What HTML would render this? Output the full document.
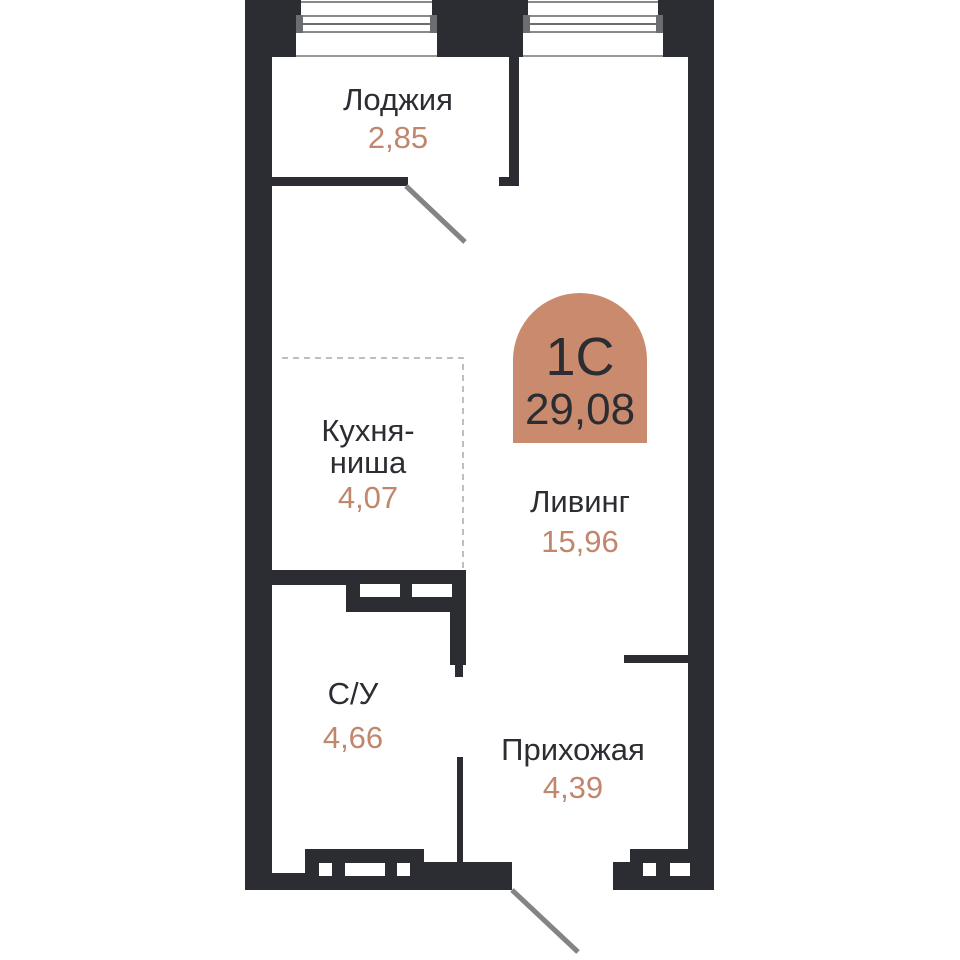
<!DOCTYPE html>
<html><head><meta charset="utf-8"><style>
html,body{margin:0;padding:0;background:#fff}
svg{display:block}
text{font-family:"Liberation Sans",sans-serif}
</style></head><body>
<svg width="960" height="960" viewBox="0 0 960 960" xmlns="http://www.w3.org/2000/svg">
<g fill="#2b2d32">
<rect x="245" y="0" width="469" height="57"/>
<rect x="245" y="0" width="27" height="890"/>
<rect x="688" y="0" width="26" height="890"/>
<rect x="272" y="177" width="136" height="9"/>
<rect x="509" y="57" width="10" height="129"/>
<rect x="499" y="177" width="20" height="9"/>
<rect x="272" y="570" width="194" height="15"/>
<rect x="346" y="585" width="120" height="27"/>
<rect x="450" y="585" width="16" height="80"/>
<rect x="455" y="660" width="8" height="17"/>
<rect x="457" y="757" width="6" height="106"/>
<rect x="624" y="655" width="64" height="8"/>
<rect x="245" y="873" width="267" height="17"/>
<rect x="305" y="849" width="119" height="41"/>
<rect x="424" y="862" width="88" height="28"/>
<rect x="613" y="862" width="101" height="28"/>
<rect x="630" y="849" width="84" height="41"/>
</g>
<g>
<rect x="301" y="0" width="131" height="15" fill="#fff"/>
<rect x="296" y="15" width="141" height="42" fill="#fff"/>
<rect x="301" y="1" width="131" height="2" fill="#888"/>
<rect x="296" y="15" width="7" height="18" fill="#6b6d70"/>
<rect x="430" y="15" width="7" height="18" fill="#6b6d70"/>
<rect x="303" y="15" width="127" height="2" fill="#8a8a8a"/>
<rect x="303" y="23" width="127" height="2" fill="#6b6d70"/>
<rect x="303" y="31" width="127" height="2" fill="#8a8a8a"/>
<rect x="296" y="55" width="141" height="2" fill="#999"/>
<rect x="528" y="0" width="130" height="15" fill="#fff"/>
<rect x="523" y="15" width="140" height="42" fill="#fff"/>
<rect x="528" y="1" width="130" height="2" fill="#888"/>
<rect x="523" y="15" width="7" height="18" fill="#6b6d70"/>
<rect x="656" y="15" width="7" height="18" fill="#6b6d70"/>
<rect x="530" y="15" width="126" height="2" fill="#8a8a8a"/>
<rect x="530" y="23" width="126" height="2" fill="#6b6d70"/>
<rect x="530" y="31" width="126" height="2" fill="#8a8a8a"/>
<rect x="523" y="55" width="140" height="2" fill="#999"/>
</g>
<g fill="#fff">
<rect x="360" y="584" width="40" height="13"/>
<rect x="412" y="584" width="40" height="13"/>
<rect x="319" y="863" width="13" height="13"/>
<rect x="345" y="863" width="40" height="13"/>
<rect x="397" y="863" width="13" height="13"/>
<rect x="643" y="863" width="13" height="13"/>
<rect x="670" y="863" width="20" height="13"/>
</g>
<line x1="406" y1="186" x2="465" y2="242" stroke="#848484" stroke-width="5"/>
<line x1="512" y1="890" x2="578" y2="952" stroke="#848484" stroke-width="5"/>
<path d="M282 358 H463 V570" fill="none" stroke="#aaa" stroke-width="1.5" stroke-dasharray="6 5"/>
<path d="M513 443 V360 A67 67 0 0 1 647 360 V443 Z" fill="#c98a6d"/>
<text x="580" y="375" text-anchor="middle" font-size="54" fill="#2b2d32">1С</text>
<text x="580" y="424" text-anchor="middle" font-size="44" fill="#2b2d32">29,08</text>
<g font-size="31" text-anchor="middle">
<text x="398" y="110" fill="#2b2d32">Лоджия</text>
<text x="398" y="148" fill="#c0876c">2,85</text>
<text x="368" y="441" fill="#2b2d32">Кухня-</text>
<text x="368" y="473" fill="#2b2d32">ниша</text>
<text x="368" y="508" fill="#c0876c">4,07</text>
<text x="580" y="512" fill="#2b2d32">Ливинг</text>
<text x="580" y="552" fill="#c0876c">15,96</text>
<text x="353" y="704" fill="#2b2d32">С/У</text>
<text x="353" y="748" fill="#c0876c">4,66</text>
<text x="573" y="760" fill="#2b2d32">Прихожая</text>
<text x="573" y="798" fill="#c0876c">4,39</text>
</g>
</svg>
</body></html>
